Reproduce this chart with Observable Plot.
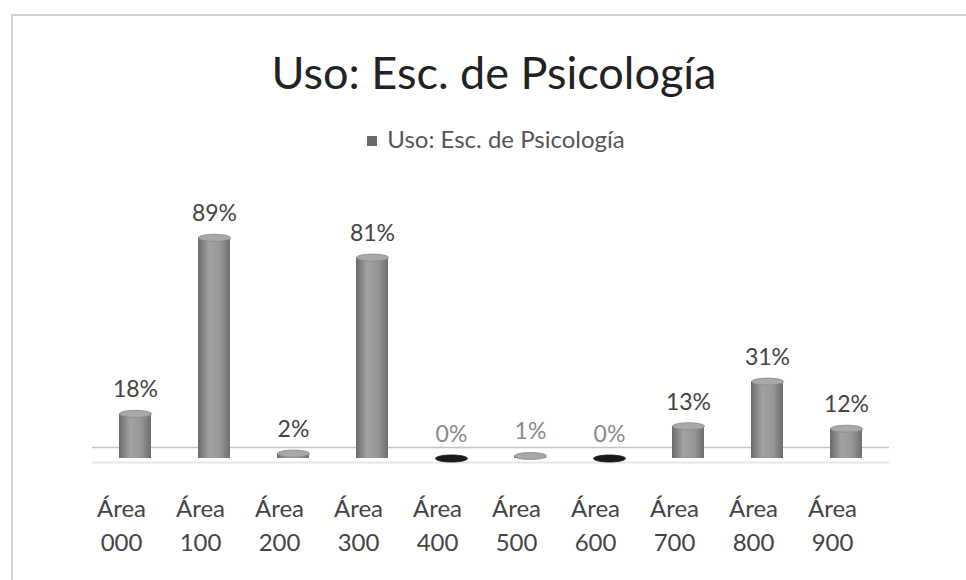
<!DOCTYPE html>
<html>
<head>
<meta charset="utf-8">
<script src="https://cdn.jsdelivr.net/npm/d3@7"></script>
<script src="https://cdn.jsdelivr.net/npm/@observablehq/plot@0.6"></script>
<style>
  html, body { margin: 0; padding: 0; background: #fff; }
  #page { position: relative; width: 966px; height: 580px; overflow: hidden; font-family: Lato, "Open Sans", sans-serif; }
  #frame { position: absolute; left: 11px; top: 14px; width: 980px; height: 600px; border-left: 2px solid #d4d4d4; border-top: 2px solid #d4d4d4; }
  #title { position: absolute; left: 0; width: 988px; top: 45px; text-align: center; font-size: 45px; line-height: 54px; color: #222; }
  #legend { position: absolute; left: 0; width: 992px; top: 124px; text-align: center; font-size: 24px; line-height: 30px; color: #555; }
  #legend .sw { display: inline-block; width: 10px; height: 10px; background: #6a6a6a; margin-right: 10px; vertical-align: 2px; }
  #chart { position: absolute; left: 0; top: 160px; }
</style>
</head>
<body>
<div id="page">
  <div id="frame"></div>
  <div id="title">Uso: Esc. de Psicología</div>
  <div id="legend"><span class="sw"></span>Uso: Esc. de Psicología</div>
  <div id="chart"></div>
</div>
<script>
const areas = ["Área\n000", "Área\n100", "Área\n200", "Área\n300", "Área\n400", "Área\n500", "Área\n600", "Área\n700", "Área\n800", "Área\n900"];
const values = [18, 89, 2, 81, 0, 1, 0, 13, 31, 12];
const labels = ["18%", "89%", "2%", "81%", "0%", "1%", "0%", "13%", "31%", "12%"];

const data = areas.map((a, i) => ({area: a, value: values[i], label: labels[i]}));

const ellipse = {
  draw(ctx, size) {
    const r = Math.sqrt(size / Math.PI);
    const rx = r, ry = r * 0.22, k = 0.5523;
    ctx.moveTo(-rx, 0);
    ctx.bezierCurveTo(-rx, -ry * k, -rx * k, -ry, 0, -ry);
    ctx.bezierCurveTo(rx * k, -ry, rx, -ry * k, rx, 0);
    ctx.bezierCurveTo(rx, ry * k, rx * k, ry, 0, ry);
    ctx.bezierCurveTo(-rx * k, ry, -rx, ry * k, -rx, 0);
    ctx.closePath();
  }
};

const chart = Plot.plot({
  width: 966,
  height: 420,
  marginLeft: 92,
  marginRight: 77,
  marginTop: 50,
  marginBottom: 122,
  style: {fontFamily: "Lato, 'Open Sans', sans-serif", background: "transparent"},
  x: {domain: areas, paddingInner: 0.6, paddingOuter: 0.3, label: null},
  y: {domain: [0, 100], axis: null},
  marks: [
    Plot.ruleY([0], {stroke: "#c4c4c4", strokeWidth: 1.5, dy: -11}),
    Plot.ruleY([0], {stroke: "#e6e6e6", strokeWidth: 2, dy: 4}),
    Plot.barY(data, {x: "area", y: "value", fill: "url(#cyl)"}),
    Plot.dot(data, {x: "area", y: "value", r: 16, symbol: ellipse, fill: d => d.value === 0 ? "#1a1a1a" : "#a8a8a8", stroke: d => d.value === 0 ? "#1a1a1a" : "#8a8a8a", strokeWidth: 0.8}),
    Plot.text(data, {x: "area", y: "value", text: "label", dy: -24, fontSize: 23, fill: d => d.value <= 1 ? "#8a8a8a" : "#444"}),
    Plot.axisX({tickSize: 0, tickPadding: 34, fontSize: 24, lineHeight: 1.42, dx: -14, fill: "#444", label: null})
  ]
});

const defs = d3.select(chart).insert("defs", ":first-child");
const g = defs.append("linearGradient").attr("id", "cyl").attr("x1", "0").attr("x2", "1").attr("y1", "0").attr("y2", "0");
g.append("stop").attr("offset", "0%").attr("stop-color", "#6a6a6a");
g.append("stop").attr("offset", "35%").attr("stop-color", "#a2a2a2");
g.append("stop").attr("offset", "70%").attr("stop-color", "#959595");
g.append("stop").attr("offset", "100%").attr("stop-color", "#6e6e6e");

document.getElementById("chart").appendChild(chart);
</script>
</body>
</html>
